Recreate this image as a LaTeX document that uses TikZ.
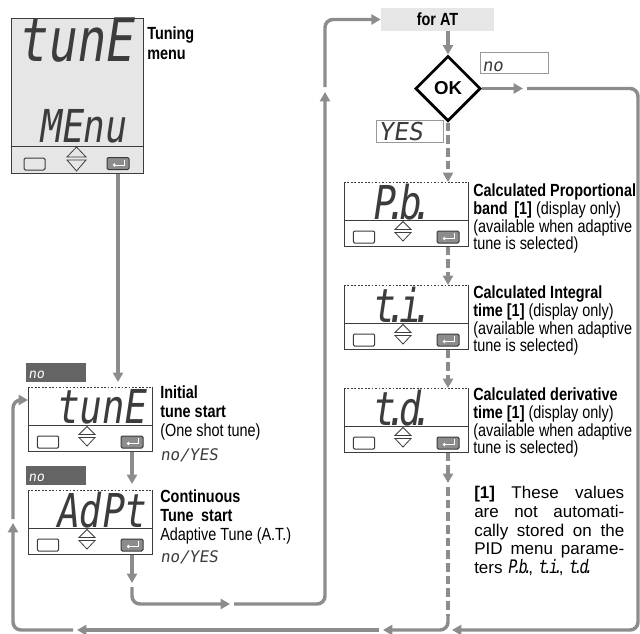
\documentclass[tikz,border=0pt]{standalone}
\usepackage{fontspec}
\setmainfont{Liberation Sans}[FakeStretch=0.82]
\newfontfamily\widefont{Liberation Sans}
\newfontfamily\segfont{DejaVu Sans Mono}[FakeSlant=0.15,FakeStretch=0.8]
\newfontfamily\segwfont{DejaVu Sans Mono}[FakeSlant=0.15]
\usetikzlibrary{arrows.meta,shapes.geometric,calc}
\definecolor{lg}{RGB}{140,140,140}
\definecolor{lcd}{RGB}{230,230,230}
\definecolor{frm}{RGB}{60,60,60}
\definecolor{btn}{RGB}{140,140,140}
\definecolor{segc}{RGB}{60,60,60}
\definecolor{nobarc}{RGB}{100,100,100}
\newcommand\sdot{\kern-0.22em.\kern-0.18em}
\tikzset{
  conn/.style={draw=lg, line width=2.6pt},
  tip/.style={-{Triangle[length=7pt,width=7.5pt]}},
  dconn/.style={conn, dash pattern=on 6.5pt off 3pt},
  frame/.style={draw=frm, line width=0.75pt},
  lab/.style={anchor=base west, inner sep=0pt, font=\fontsize{13.2}{15}\selectfont},
  blab/.style={anchor=base west, inner sep=0pt, font=\fontsize{13.2}{15}\selectfont\bfseries},
  notel/.style={anchor=base west, inner sep=0pt, font=\widefont\fontsize{12.75}{15}\selectfont},
  panelbg/.style={fill=white, minimum width=93pt, minimum height=48pt, inner sep=0pt, anchor=north west},
  keybox/.style={draw=frm, line width=0.75pt, fill=white, rounded corners=1pt, minimum width=16pt, minimum height=9pt, inner sep=0pt},
  enterkey/.style={draw=frm, line width=0.75pt, fill=btn, rounded corners=1pt, minimum width=16.5pt, minimum height=9pt, inner sep=0pt},
  segbig/.style={anchor=west, inner sep=0pt, text=segc, font=\segfont\fontsize{35}{35}\selectfont},
  nobar/.style={fill=nobarc, minimum width=45pt, minimum height=14.25pt, inner sep=0pt, anchor=north west},
  segsm/.style={anchor=base west, inner sep=0pt, text=segc, font=\segwfont\fontsize{12}{12}\selectfont},
  valbox/.style={draw=gray!80, line width=0.6pt, fill=white, inner sep=0pt, anchor=north west},
}
\newcommand\entersym[1]{%
  \draw[white, line width=0.7pt, -{Triangle[length=2pt,width=3pt]}]
    ($(#1.north east)+(-5,2.5)$) -- ($(#1.east)+(-5,1.5)$) -- ($(#1.west)+(6,1.5)$);}
\newcommand\mypanel[4]{%
  \node[panelbg] (#1) at (#2,#3) {};
  \begin{scope}[shift={(#1.north west)}]
    \draw[frame] (0,0) -- (0,64) -- (124,64) -- (124,0);
    \draw[frame, dash pattern=on 1.3pt off 1.3pt] (0,0) -- (124,0);
    \draw[frame] (0,38) -- (124,38);
    \node[keybox] (#1k) at (20,55) {};
    \draw[frame, line width=0.6pt] (51,47.5) -- (59,39.5) -- (67,47.5) -- cycle;
    \draw[frame, line width=0.6pt] (51,50.5) -- (59,59) -- (67,50.5) -- cycle;
    \node[enterkey] (#1e) at (104,55) {};
    \node[segbig] (#1t) at (27,20) {#4};
  \end{scope}
  \entersym{#1e}}
\begin{document}
\begin{tikzpicture}[x=0.75pt,y=-0.75pt]
\useasboundingbox (0,0) rectangle (640,633);

% ---------- top display ----------
\node[fill=lcd, draw=frm, line width=0.75pt, minimum width=99pt, minimum height=116.25pt, inner sep=0pt, anchor=north west] (d0) at (11,18) {};
\draw[frame] (11,146) -- (143,146);
\node[keybox, fill=lcd, minimum width=15.75pt] (d0k) at (34.5,164) {};
\draw[frame, line width=0.6pt] (67,157) -- (76.5,147) -- (86,157) -- cycle;
\draw[frame, line width=0.6pt] (67,160) -- (76.5,171) -- (86,160) -- cycle;
\node[enterkey] (d0e) at (118,163.5) {};
\entersym{d0e}
\node[segbig, font=\segfont\fontsize{45}{45}\selectfont] (d0t) at (17,40) {tunE};
\node[segbig, font=\segfont\fontsize{34}{34}\selectfont] (d0m) at (38,126) {MEnu};
\node[blab] (l0a) at (147,39) {Tuning};
\node[blab] (l0b) at (147,59) {menu};

% ---------- left panels ----------
\node[nobar] (nb1) at (26,363) {};
\node[segsm, text=white, font=\segwfont\fontsize{10}{10}\selectfont] (nb1t) at (28,378.5) {no};
\mypanel{p1}{28}{387}{tunE}
\node[nobar] (nb2) at (26,466) {};
\node[segsm, text=white, font=\segwfont\fontsize{10}{10}\selectfont] (nb2t) at (28,481.5) {no};
\mypanel{p2}{28}{490}{AdPt}

\node[blab] (l1a) at (160,398) {Initial};
\node[blab] (l1b) at (160,417) {tune start};
\node[lab] (l1c) at (160,436) {(One shot tune)};
\node[segsm] (l1d) at (160,460) {no/YES};
\node[blab] (l2a) at (160,502) {Continuous};
\node[blab] (l2b) at (160,521) {Tune\hspace{0.2em} start};
\node[lab] (l2c) at (160,540) {Adaptive Tune (A.T.)};
\node[segsm] (l2d) at (160,562) {no/YES};

% ---------- AT branch ----------
\node[fill=lcd, minimum width=84.75pt, minimum height=17.25pt, inner sep=0pt, font=\fontsize{13.2}{15}\selectfont\bfseries] (forat) at (437.5,19.5) {for AT};
\node[diamond, aspect=1, draw=black, line width=2pt, fill=white, minimum size=49pt, inner sep=0pt, font=\widefont\bfseries\fontsize{14}{14}\selectfont] (ok) at (448,88.5) {OK};
\node[valbox, minimum width=51pt, minimum height=15.75pt] (nobox) at (480,52) {};
\node[segsm, font=\segwfont\fontsize{13}{13}\selectfont] (noboxt) at (482,71) {no};
\node[valbox, minimum width=50.25pt, minimum height=16.5pt] (yesbox) at (376,120) {};
\node[segsm, font=\segwfont\fontsize{18.5}{18.5}\selectfont] (yesboxt) at (378,140) {YES};

\mypanel{p3}{344}{182}{P\sdot b\sdot}
\mypanel{p4}{344}{285}{t\sdot i\sdot}
\mypanel{p5}{344}{388}{t\sdot d\sdot}

\node[blab] (r1a) at (473,196) {Calculated Proportional};
\node[lab] (r1b) at (473,214) {\bfseries band\hspace{0.15em} [1]\mdseries\ (display only)};
\node[lab] (r1c) at (473,232) {(available when adaptive};
\node[lab] (r1d) at (473,249) {tune is selected)};
\node[blab] (r2a) at (473,298) {Calculated Integral};
\node[lab] (r2b) at (473,316) {\bfseries time [1]\mdseries\ (display only)};
\node[lab] (r2c) at (473,334) {(available when adaptive};
\node[lab] (r2d) at (473,351) {tune is selected)};
\node[blab] (r3a) at (473,400) {Calculated derivative};
\node[lab] (r3b) at (473,418) {\bfseries time [1]\mdseries\ (display only)};
\node[lab] (r3c) at (473,436) {(available when adaptive};
\node[lab] (r3d) at (473,453) {tune is selected)};

\node[notel] (n1) at (474,498) {\makebox[112.5pt][s]{\bfseries [1]\mdseries\ These values}};
\node[notel] (n2) at (474,517) {\makebox[112.5pt][s]{are not automati-}};
\node[notel] (n3) at (474,536) {\makebox[112.5pt][s]{cally stored on the}};
\node[notel] (n4) at (474,554) {\makebox[112.5pt][s]{PID menu parame-}};
\node[notel] (n5) at (474,573) {ters {\segfont\fontsize{14}{14}\selectfont P\sdot b\sdot}, {\segfont\fontsize{14}{14}\selectfont t\sdot i\sdot}, {\segfont\fontsize{14}{14}\selectfont t\sdot d\sdot}};

% ---------- connectors ----------
\coordinate (c1) at (118,382);
\draw[conn,tip] (d0e.south |- d0.south) -- (c1);
\coordinate (c2) at (132,484);
\draw[conn,tip] (p1e.south |- p1.south) -- (c2);
\coordinate (c3) at (132,583);
\draw[conn,tip] (p2e.south |- p2.south) -- (c3);
\coordinate (c3b) at (132,587);
\coordinate (b1) at (132,604);
\coordinate (c4) at (230,604);
\draw[conn,tip,rounded corners=6pt] (c3b) -- (b1) -- (c4);
\coordinate (c4b) at (234,604);
\coordinate (b2) at (325,604);
\coordinate (c5) at (325,92);
\draw[conn,tip,rounded corners=6pt] (c4b) -- (b2) -- (c5);
\coordinate (c5b) at (325,87);
\coordinate (b3) at (325,19.5);
\draw[conn,tip,rounded corners=6pt] (c5b) -- (b3) -- (forat.west);

\draw[conn,tip] (forat.south -| ok.north) -- (ok.north);
\coordinate (c6) at (523,88.5);
\draw[conn,tip] (ok.east) -- (c6);
\coordinate (c6b) at (527,88.5);
\coordinate (b4) at (638,88.5);
\coordinate (b5) at (638,630);
\coordinate (c7) at (452,630);
\draw[conn,tip,rounded corners=6pt] (c6b) -- (b4) -- (b5) -- (c7);

\draw[dconn,tip] (ok.south) -- (ok.south |- p3.north);
\draw[dconn,tip] (p3e.south |- p3.south) -- (p3e.south |- p4.north);
\draw[dconn,tip] (p4e.south |- p4.south) -- (p4e.south |- p5.north);
\coordinate (c8) at (448,483);
\draw[dconn,tip] (p5e.south |- p5.south) -- (c8);
\coordinate (c8b) at (448,487);
\coordinate (c8c) at (448,616);
\draw[dconn] (c8b) -- (c8c);
\coordinate (b6) at (448,630);
\coordinate (c9) at (383,630);
\draw[conn,tip,rounded corners=6pt] (c8c) -- (b6) -- (c9);
\coordinate (c9b) at (379,630);
\coordinate (c10) at (77,630);
\draw[conn,tip] (c9b) -- (c10);
\coordinate (c10b) at (73,630);
\coordinate (b7) at (13,630);
\coordinate (c11) at (13,523);
\draw[conn,tip,rounded corners=6pt] (c10b) -- (b7) -- (c11);
\coordinate (c11b) at (13,519);
\coordinate (b8) at (13,400);
\coordinate (c12) at (28,400);
\draw[conn,tip,rounded corners=6pt] (c11b) -- (b8) -- (c12);
\end{tikzpicture}
\end{document}
